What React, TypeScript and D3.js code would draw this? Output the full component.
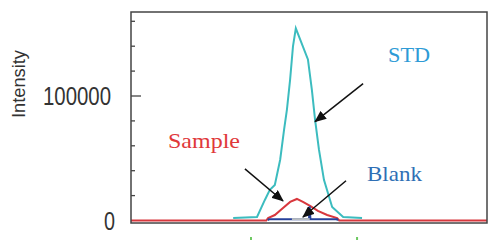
import React from "react";
import * as d3 from "d3";

// retention time (arbitrary units) vs intensity
const stdSeries: [number, number][] = [
  [2.87, 2000], [3.54, 2800], [3.76, 16500], [3.9, 24600], [4.04, 28600],
  [4.19, 48800], [4.3, 73000], [4.38, 89100], [4.47, 113300], [4.55, 139900],
  [4.63, 154400], [4.97, 129400], [5.08, 105200], [5.17, 81000], [5.28, 56900],
  [5.42, 32700], [5.65, 10900], [5.96, 2800], [6.49, 2000],
];
const sampleSeries: [number, number][] = [
  [0, 0], [3.8, 0], [3.85, 2000], [4.04, 4400], [4.27, 10100], [4.47, 14900],
  [4.66, 17300], [4.83, 14900], [5.03, 11700], [5.25, 7700], [5.51, 4400],
  [5.79, 2000], [5.85, 0], [10, 0],
];
const blankSeries: [number, number][] = [
  [3.85, 0], [3.87, 1000], [5.0, 1200], [5.02, 11500], [5.04, 1200],
  [5.79, 1000], [5.81, 0],
];
const blankIntegration: [number, number][] = [[4.52, 1100], [5.02, 1100]];
const markerTimes = [3.37, 6.35];
const yTicks = [0, 20000, 40000, 60000, 80000, 100000, 120000, 140000, 160000];
const yTickLabels = ["0", "100000"];
const labels = [
  { text: "STD", t: 7.22, v: 127000, color: "#2e9bd6", len: 42 },
  { text: "Sample", t: 1.04, v: 58500, color: "#e0383a", len: 72 },
  { text: "Blank", t: 6.63, v: 31900, color: "#2f6fb5", len: 55 },
];
const arrows = [
  { from: [6.52, 110000], to: [5.17, 79400] },
  { from: [3.2, 41500], to: [4.27, 15700] },
  { from: [6.04, 31900], to: [4.83, 2800] },
];

export default function App() {
  const W = 490, H = 240;
  const left = 131, right = 487, top = 12, bottom = 223;
  const x = d3.scaleLinear().domain([0, 10]).range([left, right]);
  const y = d3.scaleLinear().domain([0, 100000]).range([220.5, 96]);
  const line = d3.line<[number, number]>().x((d) => x(d[0])).y((d) => y(d[1]));

  return (
    <svg width={W} height={H} style={{ position: "absolute", left: 0, top: 0, background: "#fff" }}>
      <defs>
        <marker id="ah" viewBox="0 0 12 10" refX="11" refY="5" markerWidth="12" markerHeight="10"
          markerUnits="userSpaceOnUse" orient="auto">
          <path d="M0,0 L12,5 L0,10 Z" fill="#111" />
        </marker>
      </defs>
      <text transform={`translate(25,84) rotate(-90)`} textAnchor="middle"
        fontFamily="Liberation Sans, Arial, sans-serif" fontSize={19} fill="#333"
        textLength={68} lengthAdjust="spacingAndGlyphs">Intensity</text>
      {yTicks.filter((t) => t > 0).map((t) => (
        <line key={t} x1={left} x2={left + (t === 100000 ? 10 : 4)} y1={y(t)} y2={y(t)}
          stroke="#444" strokeWidth={1.3} />
      ))}
      {yTickLabels.map((s) => (
        <text key={s} x={s === "0" ? 115 : 111} y={y(+s) + 9} textAnchor="end"
          fontFamily="Liberation Sans, Arial, sans-serif" fontSize={25} fill="#333"
          textLength={s === "0" ? 11 : 68} lengthAdjust="spacingAndGlyphs">{s}</text>
      ))}
      <path d={line(stdSeries) || ""} fill="none" stroke="#3cbcbf" strokeWidth={2} />
      <path d={line(sampleSeries) || ""} fill="none" stroke="#d8373d" strokeWidth={2} />
      <path d={line(blankSeries) || ""} fill="none" stroke="#26409a" strokeWidth={2} />
      <path d={line(blankIntegration) || ""} fill="none" stroke="#b8bcc0" strokeWidth={2} />
      <rect x={left} y={top} width={right - left} height={bottom - top} fill="none"
        stroke="#444" strokeWidth={1.5} />
      {markerTimes.map((t) => (
        <line key={t} x1={x(t)} x2={x(t)} y1={237} y2={241} stroke="#6cc860" strokeWidth={2} />
      ))}
      {arrows.map((a, i) => (
        <line key={i} x1={x(a.from[0])} y1={y(a.from[1])} x2={x(a.to[0])} y2={y(a.to[1])}
          stroke="#111" strokeWidth={1.5} markerEnd="url(#ah)" />
      ))}
      {labels.map((l) => (
        <text key={l.text} x={x(l.t)} y={y(l.v)} fontFamily="Liberation Serif, Times New Roman, serif"
          fontSize={22} fill={l.color} textLength={l.len} lengthAdjust="spacingAndGlyphs">{l.text}</text>
      ))}
    </svg>
  );
}
